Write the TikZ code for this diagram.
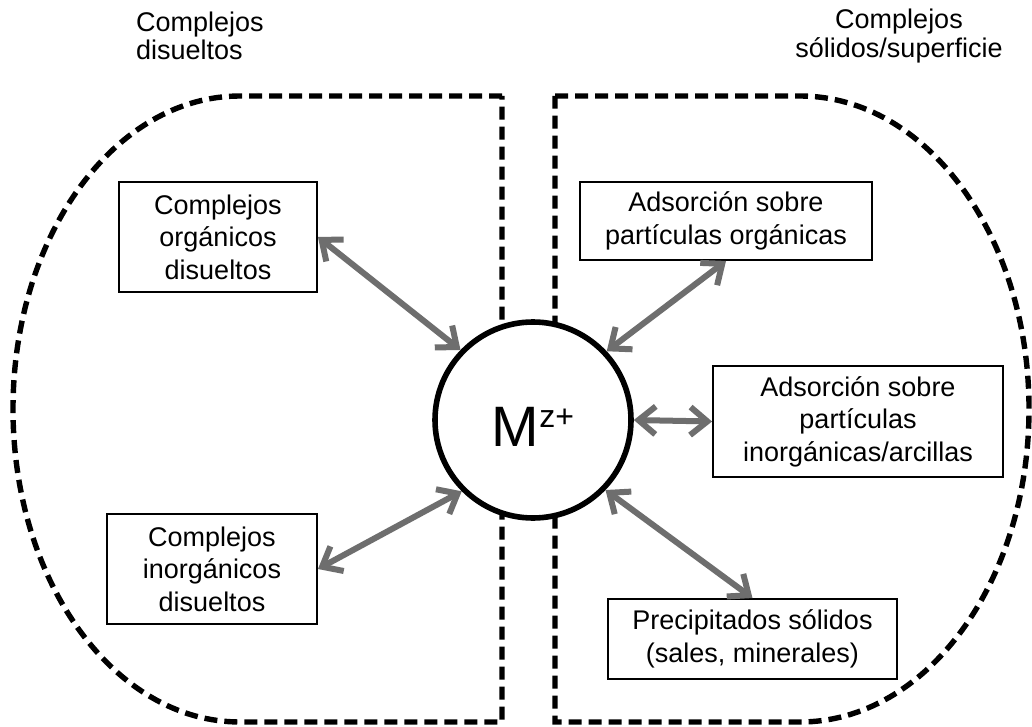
\documentclass[tikz,border=0pt]{standalone}
\usepackage{fontspec}
\setmainfont{Liberation Sans}
\usetikzlibrary{arrows.meta}
\definecolor{arrowgray}{HTML}{6E6E6E}
\tikzset{
  zone/.style={draw=black, line width=5.4pt, dash pattern=on 13pt off 7pt},
  species/.style={draw=black, line width=1.9pt, fill=white, align=center,
    inner sep=0pt, font=\fontsize{27}{32.5}\selectfont},
  header/.style={align=center, inner sep=0pt, font=\fontsize{27}{28.5}\selectfont},
  metal/.style={circle, draw=black, line width=5.6pt, fill=white,
    minimum size=196pt, inner sep=0pt},
  link/.style={draw=arrowgray, line width=6pt,
    {Straight Barb[length=17pt,width=28pt]}-{Straight Barb[length=17pt,width=28pt]}}
}
\begin{document}
\begin{tikzpicture}[x=1pt,y=-1pt]
\useasboundingbox[fill=white] (0,0) rectangle (1032,727);

% dissolved-phase zone (left) and solid/surface zone (right)
\draw[zone] (502,96) -- (240,96)
  arc[start angle=90, end angle=270, x radius=227pt, y radius=313pt]
  -- (502,722) -- cycle;
\draw[zone] (555,96) -- (800,96)
  arc[start angle=90, end angle=-90, x radius=229pt, y radius=313pt]
  -- (555,722) -- cycle;

% zone titles
\node[header, anchor=west, align=left] (hl) at (136,36) {Complejos\\disueltos};
\node[header] (hr) at (899,36) {Complejos\\sólidos/superficie};

% species boxes
\node[species, minimum width=198pt, minimum height=110pt] (org) at (218,237)
  {Complejos\\orgánicos\\disueltos};
\node[species, minimum width=210pt, minimum height=110pt] (inorg) at (212,569)
  {Complejos\\inorgánicos\\disueltos};
\node[species, minimum width=292pt, minimum height=78pt] (adsorg) at (726,221)
  {Adsorción sobre\\partículas orgánicas};
\node[species, minimum width=290pt, minimum height=111pt] (adsinorg) at (858,421.5)
  {Adsorción sobre\\partículas\\inorgánicas/arcillas};
\node[species, minimum width=289pt, minimum height=80pt] (prec) at (752.5,639)
  {Precipitados sólidos\\(sales, minerales)};

% free metal ion
\node[metal] (c) at (533,420) {};
\node[anchor=base, inner sep=0pt, font=\fontsize{57}{57}\selectfont] (mz)
  at ([yshift=-26pt]c.center)
  {M{\fontsize{32}{32}\selectfont\raisebox{19pt}{z+}}};

% exchanges between the ion and each species
\draw[link] (org.east) -- (c.136);
\draw[link] (inorg.east) -- (c.225);
\draw[link] (adsorg.south) -- (c.43);
\draw[link] (adsinorg.west) -- (c.east);
\draw[link] (prec.north) -- (c.316);
\end{tikzpicture}
\end{document}
